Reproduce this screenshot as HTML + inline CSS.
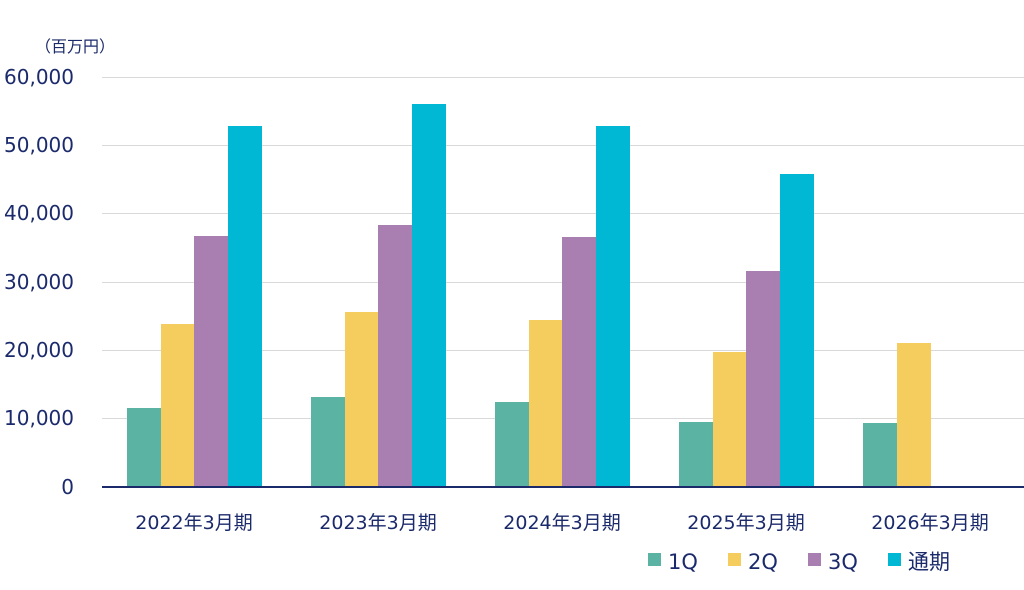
<!DOCTYPE html>
<html><head><meta charset="utf-8"><style>
html,body{margin:0;padding:0;background:#fff;width:1024px;height:590px;overflow:hidden}
svg text{font-family:"DejaVu Sans","Noto Sans CJK JP",sans-serif;fill:#1b2a6b}
</style></head><body>
<svg width="1024" height="590" xmlns="http://www.w3.org/2000/svg">
<text x="35" y="52" font-size="16">（百万円）</text>
<g stroke="#d9d9d9" stroke-width="1">
<line x1="102" y1="77.5" x2="1024" y2="77.5"/>
<line x1="102" y1="145.5" x2="1024" y2="145.5"/>
<line x1="102" y1="213.5" x2="1024" y2="213.5"/>
<line x1="102" y1="282.5" x2="1024" y2="282.5"/>
<line x1="102" y1="350.5" x2="1024" y2="350.5"/>
<line x1="102" y1="418.5" x2="1024" y2="418.5"/>
</g>
<g font-size="20" text-anchor="end">
<text x="74" y="84">60,000</text>
<text x="74" y="152">50,000</text>
<text x="74" y="220">40,000</text>
<text x="74" y="289">30,000</text>
<text x="74" y="357">20,000</text>
<text x="74" y="425">10,000</text>
<text x="74" y="494">0</text>
</g>
<g>
<rect x="127" y="408" width="34" height="79" fill="#5bb3a3"/>
<rect x="161" y="324" width="34" height="163" fill="#f5cd5e"/>
<rect x="194" y="236" width="34" height="251" fill="#a97fb2"/>
<rect x="228" y="126" width="34" height="361" fill="#00b8d4"/>

<rect x="311" y="397" width="34" height="90" fill="#5bb3a3"/>
<rect x="345" y="312" width="34" height="175" fill="#f5cd5e"/>
<rect x="378" y="225" width="34" height="262" fill="#a97fb2"/>
<rect x="412" y="104" width="34" height="383" fill="#00b8d4"/>

<rect x="495" y="402" width="34" height="85" fill="#5bb3a3"/>
<rect x="529" y="320" width="34" height="167" fill="#f5cd5e"/>
<rect x="562" y="237" width="34" height="250" fill="#a97fb2"/>
<rect x="596" y="126" width="34" height="361" fill="#00b8d4"/>

<rect x="679" y="422" width="34" height="65" fill="#5bb3a3"/>
<rect x="713" y="352" width="34" height="135" fill="#f5cd5e"/>
<rect x="746" y="271" width="34" height="216" fill="#a97fb2"/>
<rect x="780" y="174" width="34" height="313" fill="#00b8d4"/>

<rect x="863" y="423" width="34" height="64" fill="#5bb3a3"/>
<rect x="897" y="343" width="34" height="144" fill="#f5cd5e"/>
</g>
<line x1="102" y1="487" x2="1024" y2="487" stroke="#1b2a6b" stroke-width="2"/>
<g font-size="19" text-anchor="middle">
<text x="194" y="529">2022年3月期</text>
<text x="378" y="529">2023年3月期</text>
<text x="562" y="529">2024年3月期</text>
<text x="746" y="529">2025年3月期</text>
<text x="930" y="529">2026年3月期</text>
</g>
<g font-size="21">
<rect x="648" y="553" width="13" height="13" fill="#5bb3a3"/><text x="668" y="569">1Q</text>
<rect x="728" y="553" width="13" height="13" fill="#f5cd5e"/><text x="748" y="569">2Q</text>
<rect x="808" y="553" width="13" height="13" fill="#a97fb2"/><text x="828" y="569">3Q</text>
<rect x="888" y="553" width="13" height="13" fill="#00b8d4"/><text x="908" y="569">通期</text>
</g>
</svg>
</body></html>
